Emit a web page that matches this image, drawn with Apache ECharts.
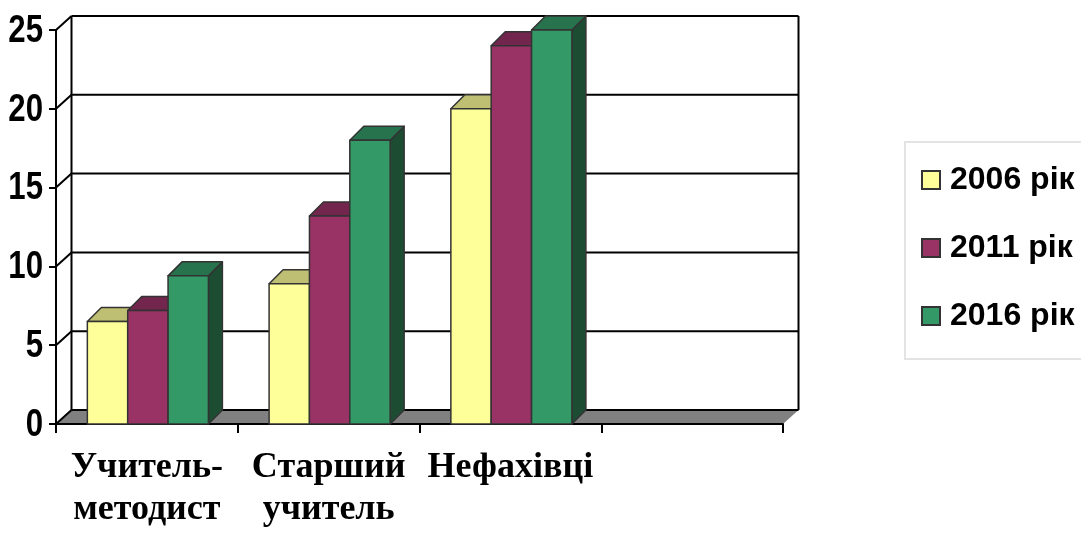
<!DOCTYPE html>
<html>
<head>
<meta charset="utf-8">
<script src="https://cdn.jsdelivr.net/npm/echarts@6/dist/echarts.min.js"></script>
<style>
html,body{margin:0;padding:0;background:#fff;}
#chart{width:1081px;height:538px;}
</style>
</head>
<body>
<div id="chart"></div>
<script>
// ---- data ----
const categories = ['Учитель-\nметодист', 'Старший\nучитель', 'Нефахівці', ''];
const seriesNames = ['2006 рік', '2011 рік', '2016 рік'];
const values2006 = [6.5, 8.9, 20];
const values2011 = [7.2, 13.2, 24];
const values2016 = [9.4, 18, 25];
const yTicks = [0, 5, 10, 15, 20, 25];

// ---- style ----
const faceColors = ['#FFFF99', '#993366', '#339966'];
const topColors  = ['#BFBF73', '#73264D', '#26734D'];
const sideColors = ['#80804D', '#4D1A33', '#1C4D33'];
const edge = '#333333';
const BAR_DX = 14, BAR_DY = -14;
const WALL_DX = 15.5, WALL_DY = -14;

function barRenderer(idx) {
  return function (params, api) {
    const cat = api.value(0), val = api.value(1);
    const top = api.coord([cat, val]);
    const base = api.coord([cat, 0]);
    const band = api.size([1, 0])[0];
    const bw = band * 0.222;
    const left = top[0] + 1 - 1.5 * bw + idx * bw;
    const y1 = top[1], y0 = base[1];
    const ls = {stroke: edge, lineWidth: 1.5, lineJoin: 'round'};
    return {
      type: 'group',
      children: [
        {type: 'polygon', shape: {points: [[left + bw, y1], [left + bw + BAR_DX, y1 + BAR_DY], [left + bw + BAR_DX, y0 + BAR_DY], [left + bw, y0]]},
         style: Object.assign({fill: sideColors[idx]}, ls)},
        {type: 'polygon', shape: {points: [[left, y1], [left + BAR_DX, y1 + BAR_DY], [left + bw + BAR_DX, y1 + BAR_DY], [left + bw, y1]]},
         style: Object.assign({fill: topColors[idx]}, ls)},
        {type: 'rect', shape: {x: left, y: y1, width: bw, height: y0 - y1},
         style: Object.assign({fill: faceColors[idx]}, ls)}
      ]
    };
  };
}

function frameRenderer(params, api) {
  const cs = params.coordSys;
  const x0 = cs.x, x1 = cs.x + cs.width;
  const yb = api.coord([0, 0])[1];
  const yt = api.coord([0, yTicks[yTicks.length - 1]])[1];
  const children = [];
  children.push({type: 'polygon', shape: {points: [[x0, yb], [x0 + WALL_DX, yb + WALL_DY], [x1 + WALL_DX, yb + WALL_DY], [x1, yb]]},
    style: {fill: '#808080', stroke: null}});
  yTicks.forEach(function (v) {
    const y = api.coord([0, v])[1];
    children.push({type: 'line', shape: {x1: x0 + WALL_DX, y1: y + WALL_DY, x2: x1 + WALL_DX, y2: y + WALL_DY},
      style: {stroke: '#000', lineWidth: 2}});
    children.push({type: 'line', shape: {x1: x0, y1: y, x2: x0 + WALL_DX, y2: y + WALL_DY},
      style: {stroke: '#000', lineWidth: 2}});
    // narrow (condensed) tick label, drawn as real text
    children.push({type: 'text', x: x0 - 13, y: y + 1, scaleX: 0.8, scaleY: 1,
      style: {text: String(v), x: 0, y: 0, align: 'right', verticalAlign: 'middle',
        fill: '#000', font: 'bold 39px "Liberation Sans", Arial, sans-serif'}});
  });
  children.push({type: 'line', shape: {x1: x0 + WALL_DX, y1: yt + WALL_DY, x2: x0 + WALL_DX, y2: yb + WALL_DY},
    style: {stroke: '#000', lineWidth: 2}});
  children.push({type: 'line', shape: {x1: x1 + WALL_DX, y1: yt + WALL_DY, x2: x1 + WALL_DX, y2: yb + WALL_DY},
    style: {stroke: '#000', lineWidth: 2}});
  return {type: 'group', children: children};
}

const allValues = [values2006, values2011, values2016];
const chart = echarts.init(document.getElementById('chart'), null, {renderer: 'canvas'});
chart.setOption({
  animation: false,
  backgroundColor: '#ffffff',
  grid: {left: 56, right: 298, top: 30, bottom: 114, containLabel: false, outerBoundsMode: 'none'},
  xAxis: {
    type: 'category',
    data: categories,
    boundaryGap: true,
    axisLine: {lineStyle: {color: '#000', width: 2}},
    axisTick: {show: true, length: 9, interval: 0, lineStyle: {color: '#000', width: 2}},
    axisLabel: {
      interval: 0, margin: 23, color: '#000',
      fontFamily: '"Liberation Serif", "Times New Roman", serif',
      fontWeight: 'bold', fontSize: 36, lineHeight: 42
    },
    splitLine: {show: false}
  },
  yAxis: {
    type: 'value', min: 0, max: 25, interval: 5,
    axisLine: {show: true, lineStyle: {color: '#000', width: 2}},
    axisTick: {show: true, length: 7, lineStyle: {color: '#000', width: 2}},
    axisLabel: {show: false},
    splitLine: {show: false}
  },
  legend: {
    orient: 'vertical',
    left: 905, top: 142,
    padding: [22, 30, 27, 16],
    itemGap: 36,
    itemWidth: 18, itemHeight: 18,
    borderColor: '#e3e3e3', borderWidth: 2,
    icon: 'rect',
    data: seriesNames.map(function (n, i) {
      return {name: n, itemStyle: {color: faceColors[i], borderColor: edge, borderWidth: 2}};
    }),
    textStyle: {
      color: '#000', fontFamily: '"Liberation Sans", Arial, sans-serif',
      fontWeight: 'bold', fontSize: 32, padding: [0, 0, 0, 5]
    }
  },
  series: [
    {type: 'custom', name: 'frame', silent: true, z: 0, renderItem: frameRenderer, data: [[0, 0]], encode: {x: 0, y: 1}}
  ].concat(seriesNames.map(function (n, i) {
    return {
      type: 'custom', name: n, z: 2 + i,
      itemStyle: {color: faceColors[i], borderColor: edge},
      renderItem: barRenderer(i),
      encode: {x: 0, y: 1},
      data: allValues[i].map(function (v, k) { return [k, v]; })
    };
  }))
});
</script>
</body>
</html>
